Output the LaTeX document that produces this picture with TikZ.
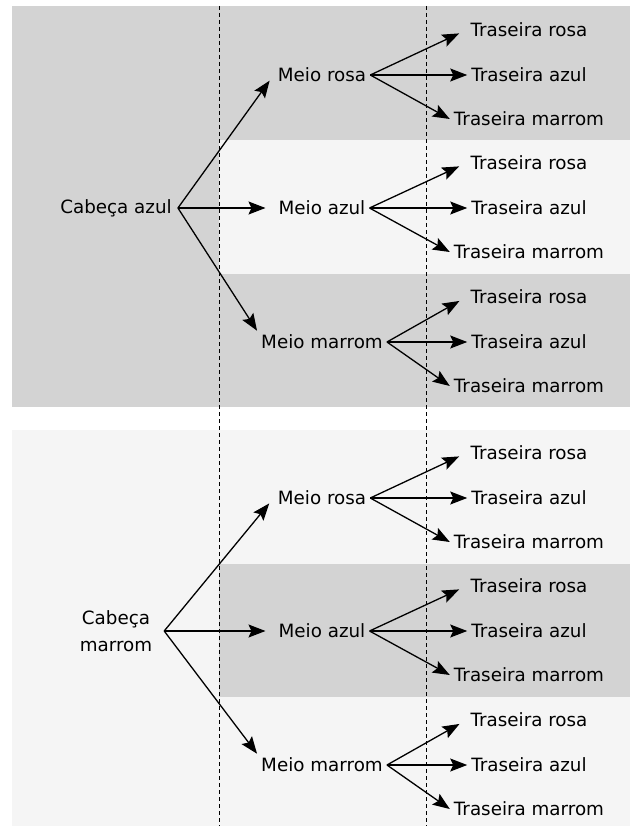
\documentclass[tikz,border=0pt]{standalone}
\usepackage{fontspec}
\setmainfont{DejaVu Sans}
\usetikzlibrary{arrows.meta,positioning}
\definecolor{cinzaesc}{HTML}{D3D3D3}
\definecolor{cinzacla}{HTML}{F5F5F5}
\tikzset{
  rotulo/.style={inner sep=4pt,font=\fontsize{18.3}{27}\selectfont},
  cabeca/.style={rotulo,align=center,inner xsep=6pt},
  seta/.style={line width=1.3pt,-{Stealth[length=17pt,width=13pt,inset=3pt]}},
  divisa/.style={line width=1pt,dash pattern=on 4pt off 3pt}
}
\begin{document}
\begin{tikzpicture}[x=1pt,y=-1pt]
\useasboundingbox (0,0) rectangle (630,826);
% fundos
\fill[cinzaesc] (12,6) rectangle (630,407);
\fill[cinzacla] (219,140) rectangle (630,274);
\fill[cinzacla] (12,430) rectangle (630,826);
\fill[cinzaesc] (219,564) rectangle (630,697);
\draw[divisa] (219,6) -- (219,826);
\draw[divisa] (426,6) -- (426,826);
% arvore
\foreach \c/\cy/\cw/\ctxt in {a/208/0/{Cabeça azul},m/631/96/{Cabeça\\marrom}}{
  \node[cabeca,minimum width=\cw pt] (c\c) at (116,\cy) {\ctxt};
  \foreach \m/\dy/\ma/\ms/\mtxt in {r/-133/west/7/{Meio rosa},a/0/west/9/{Meio azul},m/134/north west/0/{Meio marrom}}{
    \node[rotulo] (m\c\m) at (322,{\cy+\dy}) {\mtxt};
    \draw[seta,shorten >=\ms pt] (c\c.east) -- (m\c\m.\ma);
    \foreach \t/\ty/\ts/\ttxt in {r/-45/8/{Traseira rosa},a/0/0/{Traseira azul},m/44/0/{Traseira marrom}}{
      \node[rotulo] (t\c\m\t) at (529,{\cy+\dy+\ty}) {\ttxt};
      \draw[seta,shorten >=\ts pt] (m\c\m.east) -- (t\c\m\t.west);
    }
  }
}
\end{tikzpicture}
\end{document}
